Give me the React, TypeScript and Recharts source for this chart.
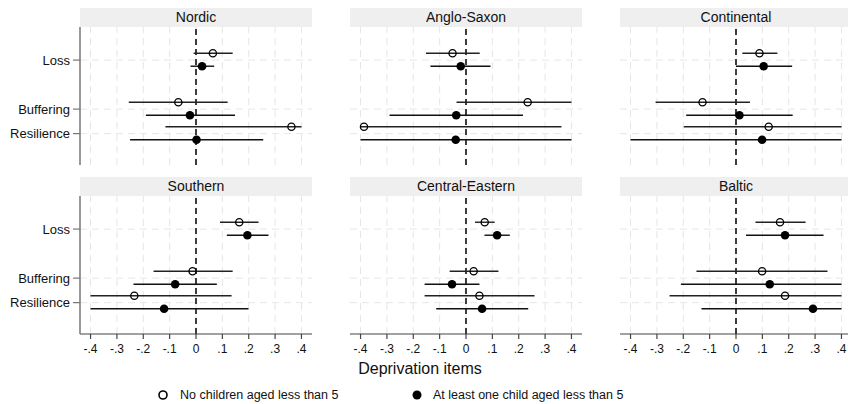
import {
  ComposedChart,
  Scatter,
  ErrorBar,
  XAxis,
  YAxis,
  ReferenceLine,
} from "recharts";

const categories = ["Loss", "Buffering", "Resilience"];
const categoryPos = [1, 3, 4];
const regions = ["Nordic", "Anglo-Saxon", "Continental", "Southern", "Central-Eastern", "Baltic"];
const xTicks = [-0.4, -0.3, -0.2, -0.1, 0, 0.1, 0.2, 0.3, 0.4];

// [estimate, lower, upper] for Loss, Buffering, Resilience
const nordicNoChild = [[0.064, -0.009, 0.139], [-0.067, -0.255, 0.12], [0.362, -0.116, 0.4]];
const nordicChild = [[0.023, -0.021, 0.069], [-0.023, -0.19, 0.148], [0.002, -0.25, 0.255]];
const angloNoChild = [[-0.051, -0.152, 0.052], [0.234, -0.036, 0.4], [-0.387, -0.4, 0.362]];
const angloChild = [[-0.02, -0.135, 0.093], [-0.037, -0.29, 0.216], [-0.039, -0.4, 0.4]];
const continentalNoChild = [[0.089, 0.024, 0.157], [-0.127, -0.305, 0.053], [0.124, -0.198, 0.4]];
const continentalChild = [[0.105, 0, 0.213], [0.013, -0.189, 0.215], [0.099, -0.4, 0.4]];
const southernNoChild = [[0.164, 0.091, 0.237], [-0.013, -0.161, 0.139], [-0.234, -0.4, 0.135]];
const southernChild = [[0.195, 0.117, 0.275], [-0.079, -0.237, 0.079], [-0.121, -0.4, 0.199]];
const ceNoChild = [[0.071, 0.034, 0.109], [0.029, -0.062, 0.123], [0.051, -0.157, 0.26]];
const ceChild = [[0.118, 0.07, 0.166], [-0.053, -0.157, 0.051], [0.061, -0.113, 0.236]];
const balticNoChild = [[0.167, 0.074, 0.264], [0.099, -0.15, 0.347], [0.186, -0.252, 0.4]];
const balticChild = [[0.186, 0.038, 0.332], [0.128, -0.209, 0.4], [0.292, -0.131, 0.4]];

const noChildData = [nordicNoChild, angloNoChild, continentalNoChild, southernNoChild, ceNoChild, balticNoChild];
const childData = [nordicChild, angloChild, continentalChild, southernChild, ceChild, balticChild];

const FONT = "'Liberation Sans', Arial, Helvetica, sans-serif";
const PLOT_W = 232;
const PLOT_H = 138;
const HEADER_H = 19;
const COL_LEFT = [80, 350, 620];
const ROW_TOP = [8, 177];
const Y_AXIS_W = 80;
const X_AXIS_H = 30;

function toPoints(rows: number[][], offset: number) {
  return rows.map(([est, lo, hi], i) => ({
    x: est,
    y: categoryPos[i] + offset,
    err: [est - lo, hi - est],
  }));
}

function fmtTick(v: number) {
  if (Math.abs(v) < 1e-9) return "0";
  return (v < 0 ? "-" : "") + "." + Math.round(Math.abs(v) * 10);
}

const OpenDot = (p: any) => (
  <circle cx={p.cx} cy={p.cy} r={3.6} fill="none" stroke="#000" strokeWidth={1.3} />
);
const FilledDot = (p: any) => <circle cx={p.cx} cy={p.cy} r={4.3} fill="#000" />;

function Panel({ index }: { index: number }) {
  const row = Math.floor(index / 3);
  const col = index % 3;
  const leftAxis = col === 0;
  const bottomAxis = row === 1;
  const chartLeft = leftAxis ? COL_LEFT[col] - Y_AXIS_W : COL_LEFT[col];
  const chartW = PLOT_W + (leftAxis ? Y_AXIS_W : 0);
  const chartH = PLOT_H + (bottomAxis ? X_AXIS_H : 0);

  return (
    <>
      <div
        style={{
          position: "absolute",
          left: COL_LEFT[col],
          top: ROW_TOP[row],
          width: PLOT_W,
          height: HEADER_H,
          background: "#efefef",
          fontSize: 14,
          lineHeight: `${HEADER_H}px`,
          textAlign: "center",
          color: "#111",
        }}
      >
        {regions[index]}
      </div>
      <div style={{ position: "absolute", left: chartLeft, top: ROW_TOP[row] + HEADER_H }}>
        <ComposedChart
          width={chartW}
          height={chartH}
          margin={{ top: 0, right: 0, bottom: 0, left: 0 }}
        >
          <XAxis
            type="number"
            dataKey="x"
            domain={[-0.44, 0.44]}
            ticks={xTicks}
            allowDataOverflow
            hide={!bottomAxis}
            height={X_AXIS_H}
            tickFormatter={fmtTick}
            tick={{ fontSize: 12, fill: "#111", fontFamily: FONT }}
            tickSize={5}
            tickMargin={5}
            axisLine={{ stroke: "#444", strokeWidth: 1.2 }}
            tickLine={{ stroke: "#444", strokeWidth: 1.2 }}
            interval={0}
          />
          <YAxis
            type="number"
            dataKey="y"
            domain={[-0.35, 5.28]}
            reversed
            ticks={categoryPos}
            allowDataOverflow
            hide={!leftAxis}
            width={Y_AXIS_W}
            tickFormatter={(v: number) => categories[categoryPos.indexOf(v)] ?? ""}
            tick={{ fontSize: 13, fill: "#111", fontFamily: FONT }}
            tickSize={7}
            tickMargin={3}
            axisLine={{ stroke: "#777", strokeWidth: 1.5 }}
            tickLine={{ stroke: "#777", strokeWidth: 1.2 }}
            interval={0}
          />
          {xTicks.map((t) => (
            <ReferenceLine
              key={"vx" + t}
              x={t}
              stroke="#e6e6e6"
              strokeDasharray="7 5"
              strokeWidth={1}
            />
          ))}
          {categoryPos.map((c) => (
            <ReferenceLine
              key={"hy" + c}
              y={c}
              stroke="#e6e6e6"
              strokeDasharray="7 5"
              strokeWidth={1}
            />
          ))}
          <ReferenceLine x={0} stroke="#000" strokeDasharray="6 4" strokeWidth={1.5} />
          <Scatter
            data={toPoints(noChildData[index], -0.28)}
            shape={OpenDot}
            isAnimationActive={false}
          >
            <ErrorBar
              dataKey="err"
              direction="x"
              width={0}
              stroke="#222"
              strokeWidth={1.4}
              isAnimationActive={false}
            />
          </Scatter>
          <Scatter
            data={toPoints(childData[index], 0.25)}
            shape={FilledDot}
            isAnimationActive={false}
          >
            <ErrorBar
              dataKey="err"
              direction="x"
              width={0}
              stroke="#111"
              strokeWidth={1.4}
              isAnimationActive={false}
            />
          </Scatter>
        </ComposedChart>
      </div>
    </>
  );
}

export default function App() {
  return (
    <div
      style={{
        position: "absolute",
        left: 0,
        top: 0,
        width: 848,
        height: 404,
        overflow: "hidden",
        background: "#fff",
        fontFamily: FONT,
      }}
    >
      {regions.map((_, i) => (
        <Panel key={i} index={i} />
      ))}
      <div
        style={{
          position: "absolute",
          left: 320,
          width: 200,
          top: 360,
          textAlign: "center",
          fontSize: 16,
          lineHeight: "18px",
          color: "#111",
        }}
      >
        Deprivation items
      </div>
      <svg style={{ position: "absolute", left: 0, top: 386 }} width={848} height={18}>
        <circle cx={163} cy={9} r={4} fill="none" stroke="#000" strokeWidth={1.6} />
        <circle cx={417} cy={9} r={4.5} fill="#000" />
      </svg>
      <div
        style={{
          position: "absolute",
          left: 180,
          top: 387,
          fontSize: 12.5,
          lineHeight: "16px",
          color: "#111",
        }}
      >
        No children aged less than 5
      </div>
      <div
        style={{
          position: "absolute",
          left: 433,
          top: 387,
          fontSize: 12.5,
          lineHeight: "16px",
          color: "#111",
        }}
      >
        At least one child aged less than 5
      </div>
    </div>
  );
}
